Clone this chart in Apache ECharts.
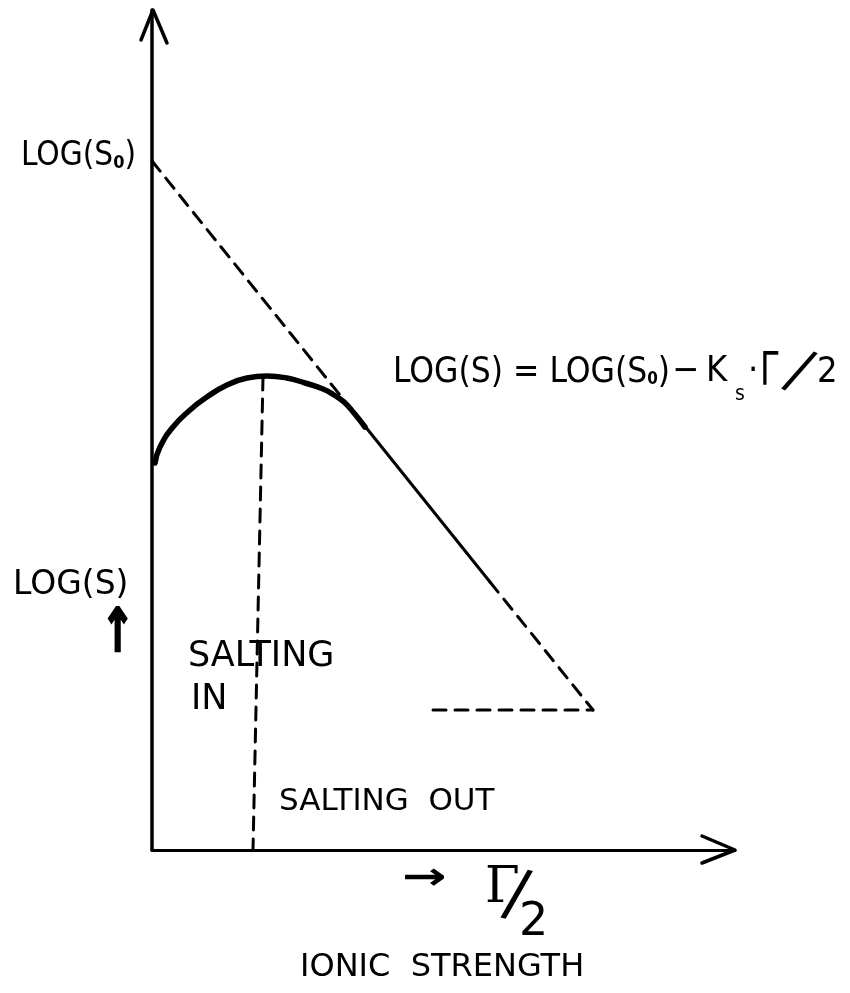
<!DOCTYPE html>
<html>
<head>
<meta charset="utf-8">
<script src="https://cdn.jsdelivr.net/npm/echarts@6/dist/echarts.min.js"></script>
<style>
  html, body { margin: 0; padding: 0; background: #fff; }
  #chart { width: 850px; height: 993px; }
</style>
</head>
<body>
<div id="chart"></div>
<script>
// schematic units: x = ionic strength (Γ/2), y = log(S)
const xMax = 5.83;
const yMax = 8.40;

// salting-in curve (solid, thick)
const saltingCurve = [
  [0.03, 3.87], [0.08, 4.03], [0.21, 4.23], [0.38, 4.40], [0.55, 4.53],
  [0.75, 4.65], [0.95, 4.72], [1.15, 4.74], [1.35, 4.72], [1.53, 4.67],
  [1.71, 4.61], [1.82, 4.55], [1.92, 4.48], [2.02, 4.37], [2.13, 4.23]
];
// log(S) = log(S0) - Ks * Γ/2 straight line pieces
const lineDashUpper = [[0, 6.89], [2.00, 4.40]];
const lineSolid = [[2.00, 4.40], [3.38, 2.68]];
const lineDashLower = [[3.38, 2.68], [4.41, 1.40]];
const slopeBase = [[2.81, 1.40], [4.41, 1.40]];
// boundary between salting in and salting out
const peakDrop = [[1.11, 4.73], [1.01, 0]];
// open arrow heads on the axes
const yArrow = [[-0.11, 8.10], [0.01, yMax], [0.15, 8.07]];
const xArrow = [[5.50, 0.14], [xMax, 0], [5.50, -0.13]];

const font = '"DejaVu Sans"';
const cond = '"DejaVu Sans Condensed"';
const chart = echarts.init(document.getElementById('chart'));

const lineSeries = (data, width, dashed, smooth) => ({
  type: 'line',
  data,
  smooth: smooth || false,
  symbol: 'none',
  clip: false,
  silent: true,
  lineStyle: { color: '#000', width, type: dashed ? [13, 9] : 'solid', cap: 'round', join: 'round' }
});

const arrowSeries = (pts) => ({
  type: 'custom',
  clip: false,
  silent: true,
  data: [0],
  renderItem: (params, api) => ({
    type: 'polyline',
    shape: { points: pts.map((p) => api.coord(p)) },
    style: { stroke: '#000', lineWidth: 3.5, fill: null, lineCap: 'round', lineJoin: 'round' }
  })
});

// plain text helper
const txt = (left, top, text, size, family, extra, styleExtra) => ({
  type: 'text', left, top,
  ...(extra || {}),
  style: { text, font: size + 'px ' + (family || font), fill: '#000', ...(styleExtra || {}) }
});

// slanted slash, centred on (x, y) and turned clockwise
const slash = (x, y, size, family, rotation) => ({
  type: 'text', x, y, rotation,
  style: { text: '/', font: size + 'px ' + family, fill: '#000', align: 'center', verticalAlign: 'middle' }
});

chart.setOption({
  backgroundColor: '#fff',
  animation: false,
  grid: { left: 152, right: 115, top: 10, bottom: 143 },
  xAxis: {
    type: 'value', min: 0, max: xMax,
    axisLine: { show: true, onZero: false, lineStyle: { color: '#000', width: 3 } },
    axisTick: { show: false }, axisLabel: { show: false }, splitLine: { show: false }
  },
  yAxis: {
    type: 'value', min: 0, max: yMax,
    axisLine: { show: true, onZero: false, lineStyle: { color: '#000', width: 3.5 } },
    axisTick: { show: false }, axisLabel: { show: false }, splitLine: { show: false }
  },
  series: [
    lineSeries(saltingCurve, 5.5, false, 0.5),
    lineSeries(lineDashUpper, 3, true),
    lineSeries(lineSolid, 3, false),
    lineSeries(lineDashLower, 3, true),
    lineSeries(slopeBase, 3, true),
    lineSeries(peakDrop, 3, true),
    arrowSeries(yArrow),
    arrowSeries(xArrow)
  ],
  graphic: [
    {
      type: 'text', left: 21, top: 140,
      style: {
        text: '{a|LOG(S}{s|0}{a|)}', fill: '#000',
        rich: {
          a: { fontFamily: 'DejaVu Sans Condensed', fontSize: 33, fill: '#000' },
          s: { fontFamily: 'DejaVu Sans Condensed', fontSize: 18, fontWeight: 'bold', fill: '#000', padding: [14, 0, 0, 0] }
        }
      }
    },
    // equation, set piece by piece to follow the hand lettering
    {
      type: 'text', left: 393, top: 355,
      style: {
        text: '{a|LOG(S) = LOG(S}{s|0}{a|)}', fill: '#000',
        rich: {
          a: { fontFamily: 'DejaVu Sans Condensed', fontSize: 35, fill: '#000' },
          s: { fontFamily: 'DejaVu Sans Condensed', fontSize: 17, fontWeight: 'bold', fill: '#000', padding: [14, 0, 0, 0] }
        }
      }
    },
    txt(672, 354, '−', 36, cond),
    txt(706, 354, 'K', 36, cond),
    txt(735, 384, 's', 21, cond),
    txt(748, 354, '·', 36, cond),
    txt(760, 350, 'Γ', 46, cond, { scaleX: 0.8 }),
    slash(798, 374, 58, cond, -0.45),
    txt(817, 355, '2', 36, cond),

    txt(13, 569, 'LOG(S)', 33),
    txt(100, 604, '↑', 40, font, { scaleY: 1.5 }, { font: 'bold 40px ' + font, stroke: '#000', lineWidth: 1.5 }),
    txt(188, 639, 'SALTING', 35),
    txt(191, 682, 'IN', 35),
    txt(279, 786, 'SALTING  OUT', 31),
    txt(402, 860, '→', 38, font, { scaleX: 1.4 }, { font: 'bold 38px ' + font }),
    txt(485, 864, 'Γ', 50, '"DejaVu Serif"'),
    slash(516, 898, 64, font, -0.22),
    txt(519, 900, '2', 46),
    txt(300, 952, 'IONIC  STRENGTH', 32)
  ]
});
</script>
</body>
</html>
